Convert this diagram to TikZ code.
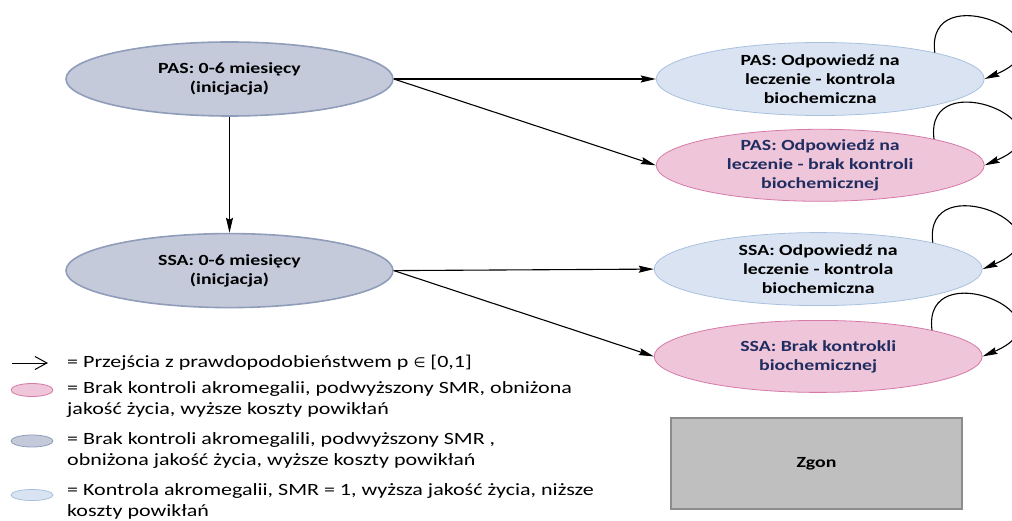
\documentclass[tikz,border=0pt]{standalone}
\usepackage{fontspec}
\setmainfont{Carlito}[FakeStretch=1.28]
\newfontfamily\znakfont{DejaVu Sans}[Scale=0.8]
\usetikzlibrary{shapes.geometric, positioning, arrows.meta}

\definecolor{initfill}{RGB}{197,202,218}
\definecolor{initline}{RGB}{143,157,186}
\definecolor{kontfill}{RGB}{218,227,241}
\definecolor{kontline}{RGB}{168,193,223}
\definecolor{brakfill}{RGB}{239,197,218}
\definecolor{brakline}{RGB}{214,122,168}
\definecolor{braktext}{RGB}{31,45,96}
\definecolor{zgonfill}{RGB}{191,191,191}
\definecolor{zgonline}{RGB}{140,140,140}

\newcommand{\nodefont}{\fontsize{15.5}{19}\selectfont\bfseries}
\newcommand{\legfont}{\fontsize{17.2}{21}\selectfont}

\tikzset{
    stan/.style={ellipse, minimum width=328pt, minimum height=73pt,
        inner xsep=0pt, inner ysep=-14pt, align=center, font=\nodefont},
    initstan/.style={stan, fill=initfill, draw=initline, line width=1.6pt,
        minimum width=327pt, minimum height=74pt},
    kontstan/.style={stan, fill=kontfill, draw=kontline, line width=0.8pt},
    brakstan/.style={stan, fill=brakfill, draw=brakline, line width=0.8pt,
        text=braktext, minimum height=72pt},
    zgonbox/.style={rectangle, fill=zgonfill, draw=zgonline, line width=1.2pt,
        minimum width=291pt, minimum height=91pt, font=\nodefont},
    trans/.style={-{Stealth[length=15pt,width=7pt,inset=2pt]}, line width=1.1pt},
    legstan/.style={ellipse, inner sep=0pt, minimum width=42pt, line width=0.8pt},
    legtext/.style={anchor=west, align=left, inner sep=0pt, font=\legfont},
}

\begin{document}
\begin{tikzpicture}
        \clip (0pt,0pt) rectangle (1012pt,-521pt);

        \node[initstan] (pasinit) at (229.5pt,-79pt) {PAS: 0-6 miesięcy\\(inicjacja)};
        \node[initstan, below=116pt of pasinit] (ssainit) {SSA: 0-6 miesięcy\\(inicjacja)};
        \node[kontstan, right=262pt of pasinit] (paskon) {PAS: Odpowiedź na\\leczenie - kontrola\\biochemiczna};
        \node[brakstan, below=13pt of paskon] (pasbrak) {PAS: Odpowiedź na\\leczenie - brak kontroli\\biochemicznej};
        \node[kontstan, right=260pt of ssainit, yshift=1.5pt] (ssakon) {SSA: Odpowiedź na\\leczenie - kontrola\\biochemiczna};
        \node[brakstan, below=14pt of ssakon] (ssabrak) {SSA: Brak kontrokli\\biochemicznej};
        \node[zgonbox] (zgon) at (816.5pt,-463.5pt) {Zgon};

        \path[trans]
            (pasinit) edge (ssainit)
            (pasinit.east) edge (paskon.west)
            (pasinit.east) edge (pasbrak.west)
            (ssainit.east) edge (ssakon.west)
            (ssainit.east) edge (ssabrak.west)
            ;

        % petle
        \foreach \s in {paskon, pasbrak, ssakon, ssabrak}
            \draw[trans] (\s.13) .. controls +(-10pt,78pt) and +(95pt,40pt) .. (\s.east);

        % legenda
        \coordinate (legA) at (12pt,-363pt);
        \coordinate (legB) at (48pt,-363pt);
        \draw[-{Straight Barb[length=12pt,width=13pt]}, line width=1pt] (legA) -- (legB);
        \node[legtext] (legtrans) at (67pt,-363pt) {= Przejścia z prawdopodobieństwem p {\znakfont ∈} [0,1]};

        \node[legstan, fill=brakfill, draw=brakline, minimum height=13pt] (legbrak) at (32pt,-390pt) {};
        \node[legtext] (legbraktxt) at (67pt,-399.5pt) {= Brak kontroli akromegalii, podwyższony SMR, obniżona\\jakość życia, wyższe koszty powikłań};

        \node[legstan, fill=initfill, draw=initline, minimum height=12pt] (leginit) at (32pt,-441pt) {};
        \node[legtext] (leginittxt) at (67pt,-450.5pt) {= Brak kontroli akromegalili, podwyższony SMR ,\\obniżona jakość życia, wyższe koszty powikłań};

        \node[legstan, fill=kontfill, draw=kontline, minimum height=11pt] (legkon) at (32pt,-495pt) {};
        \node[legtext] (legkontxt) at (67pt,-501pt) {= Kontrola akromegalii, SMR = 1, wyższa jakość życia, niższe\\koszty powikłań};
    \end{tikzpicture}
\end{document}
